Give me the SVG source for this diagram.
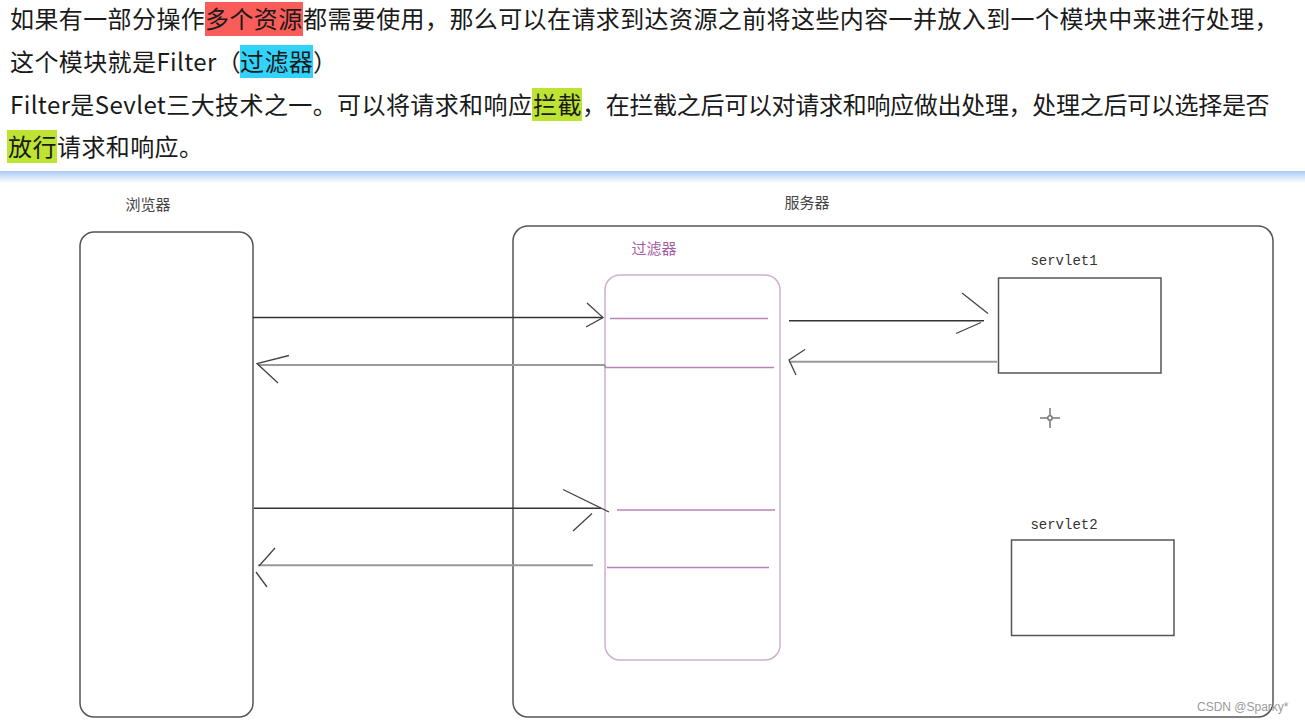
<svg xmlns="http://www.w3.org/2000/svg" width="1305" height="723" viewBox="0 0 1305 723">
<style>
.hd{font-family:"Noto Sans CJK SC","Noto Sans",sans-serif;font-size:24px;fill:#1a1a1a;letter-spacing:0.4px}
.lbl{font-family:"Noto Sans CJK SC",sans-serif;font-size:15px;fill:#444;text-anchor:middle}
.mono{font-family:"Liberation Mono",monospace;font-size:14px;fill:#333;text-anchor:middle}
.box{fill:none;stroke:#555;stroke-width:1.5}
.flt{fill:none;stroke:#d2aed4;stroke-width:1.5}
.pl{stroke:#b884b8;stroke-width:1.6}
.dk{stroke:#333;stroke-width:1.4;fill:none}
.gy{stroke:#9a9a9a;stroke-width:1.9;fill:none}
.ah{stroke:#444;stroke-width:1.3;fill:none}
</style>
<defs>
<linearGradient id="shadow" x1="0" y1="0" x2="0" y2="1">
<stop offset="0" stop-color="#a9cbf5"/>
<stop offset="1" stop-color="#ffffff"/>
</linearGradient>
</defs>
<rect x="0" y="0" width="1305" height="723" fill="#ffffff"/>
<g id="header">
<rect x="205" y="2" width="98" height="34" fill="#fa5d59"/>
<rect x="240" y="45" width="73" height="33" fill="#31d3fb"/>
<rect x="532" y="88" width="50" height="33" fill="#bde433"/>
<rect x="7" y="130" width="50" height="33" fill="#bde433"/>
<text class="hd" y="28"><tspan x="10">如果有一部分操作</tspan><tspan x="205">多个资源</tspan><tspan x="303">都需要使用，那么可以在请求到达资源之前将这些内容一并放入到一个模块中来进行处理，</tspan></text>
<text class="hd" y="70.5"><tspan x="10">这个模块就是Filter（</tspan><tspan x="240">过滤器</tspan><tspan x="313">）</tspan></text>
<text class="hd" y="113.5"><tspan x="10">Filter是Sevlet三大技术之一。可以将请求和响应</tspan><tspan x="533">拦截</tspan><tspan x="582" style="letter-spacing:-0.3px">，在拦截之后可以对请求和响应做出处理，处理之后可以选择是否</tspan></text>
<text class="hd" y="155.5"><tspan x="8">放行</tspan><tspan x="57">请求和响应。</tspan></text>
<rect x="0" y="171" width="1305" height="12" fill="url(#shadow)"/>
</g>
<g id="browser">
<text class="lbl" x="148" y="210">浏览器</text>
<rect class="box" x="80" y="232" width="173" height="485" rx="14"/>
</g>
<g id="server">
<text class="lbl" x="807" y="208">服务器</text>
<rect class="box" x="513" y="226" width="760" height="491" rx="15"/>
</g>
<g id="filter">
<text class="lbl" x="654" y="254" style="fill:#a45ea6">过滤器</text>
<rect class="flt" x="605" y="275" width="175" height="385" rx="15"/>
<line class="pl" x1="610" y1="318.5" x2="768" y2="318.5"/>
<line class="pl" x1="605" y1="367.5" x2="774" y2="367.5"/>
<line class="pl" x1="617" y1="510" x2="775" y2="510"/>
<line class="pl" x1="607" y1="567.5" x2="769" y2="567.5"/>
</g>
<g id="servlet1">
<text class="mono" x="1064" y="265">servlet1</text>
<rect class="box" x="998.5" y="278" width="162.5" height="95"/>
</g>
<g id="servlet2">
<text class="mono" x="1064" y="529">servlet2</text>
<rect class="box" x="1011.5" y="540" width="162.5" height="95.5"/>
</g>
<g id="cursor" stroke="#777" stroke-width="1.5" fill="none">
<line x1="1040" y1="418" x2="1060" y2="418"/>
<line x1="1050" y1="408" x2="1050" y2="428"/>
<circle cx="1050" cy="418" r="2.2" fill="#fff"/>
</g>
<g id="connectors">
<line class="dk" x1="253" y1="317.5" x2="603" y2="317.5"/>
<path class="ah" d="M587 303 L603 317.5 L586 327"/>
<line class="gy" x1="258" y1="365" x2="605" y2="365"/>
<path class="gy" d="M605 365 L605 367.5"/>
<path class="ah" d="M289 355.5 L257 363.5 L278 383"/>
<line class="dk" x1="789" y1="320.7" x2="984" y2="320.7"/>
<path class="ah" d="M962 293 L988 313.5 M956 333.5 L981 322.5"/>
<line class="gy" x1="789" y1="361.7" x2="997" y2="361.7"/>
<path class="ah" d="M805 349.5 L789 360 L796 375"/>
<line class="dk" x1="254" y1="508.3" x2="601" y2="508.3"/>
<path class="ah" d="M563 489.5 L609 512 M573 531 L592 513.5"/>
<line class="gy" x1="258" y1="565.3" x2="593" y2="565.3"/>
<path class="ah" d="M275 548 L259 566 M256 572 L267 587"/>
</g>
<text x="1197" y="711" style="font-family:'Liberation Sans',Arial,sans-serif;font-size:12px;fill:#9a9a9a">CSDN @Sparky*</text>
</svg>
